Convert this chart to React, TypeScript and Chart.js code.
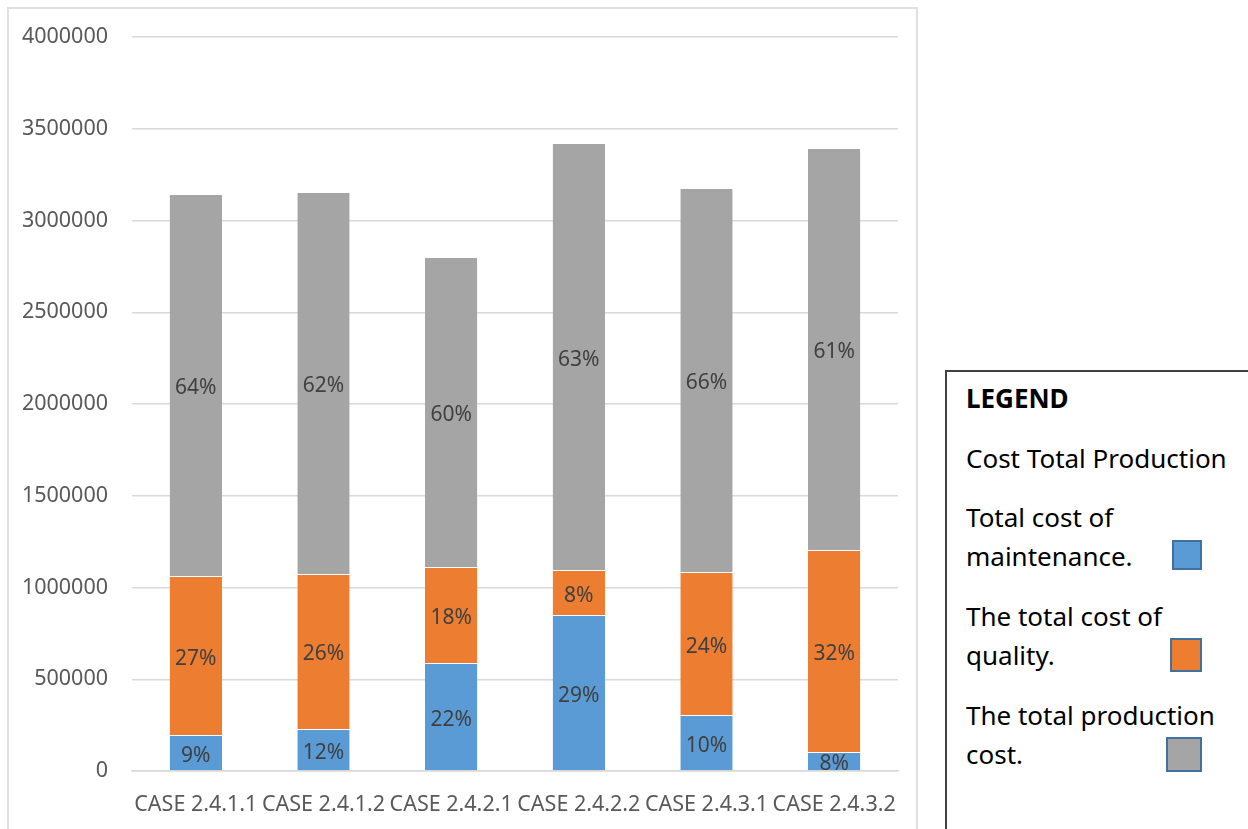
import React, { useEffect, useRef } from "react";
import { Chart, registerables } from "chart.js";

Chart.register(...registerables);

const categories = ["CASE 2.4.1.1", "CASE 2.4.1.2", "CASE 2.4.2.1", "CASE 2.4.2.2", "CASE 2.4.3.1", "CASE 2.4.3.2"];
const maintenanceCost = [196000, 229000, 589000, 850000, 305000, 104000];
const qualityCost = [866000, 845000, 523000, 245000, 779000, 1100000];
const productionCost = [2082000, 2081000, 1689000, 2327000, 2093000, 2191000];
const maintenancePct = ["9%", "12%", "22%", "29%", "10%", "8%"];
const qualityPct = ["27%", "26%", "18%", "8%", "24%", "32%"];
const productionPct = ["64%", "62%", "60%", "63%", "66%", "61%"];
const seriesNames = ["Total cost of maintenance.", "The total cost of quality.", "The total production cost."];

const FONT = "'Noto Sans', sans-serif";

const segLabels = {
  id: "segLabels",
  afterDatasetsDraw(chart: any) {
    const ctx = chart.ctx;
    const labels = [maintenancePct, qualityPct, productionPct];
    ctx.save();
    ctx.font = `21px ${FONT}`;
    ctx.fillStyle = "#404040";
    ctx.textAlign = "center";
    ctx.textBaseline = "middle";
    chart.data.datasets.forEach((_ds: any, i: number) => {
      const meta = chart.getDatasetMeta(i);
      meta.data.forEach((bar: any, j: number) => {
        const p = bar.getProps(["x", "y", "base"], true);
        ctx.fillText(labels[i][j], p.x, (p.y + p.base) / 2 + 3);
      });
    });
    ctx.restore();
  },
};

export default function App() {
  const ref = useRef<HTMLCanvasElement>(null);
  useEffect(() => {
    if (!ref.current) return;
    const chart = new Chart(ref.current, {
      type: "bar",
      data: {
        labels: categories,
        datasets: [
          { label: seriesNames[0], data: maintenanceCost, backgroundColor: "#5B9BD5" },
          { label: seriesNames[1], data: qualityCost, backgroundColor: "#ED7D31" },
          { label: seriesNames[2], data: productionCost, backgroundColor: "#A5A5A5" },
        ].map((d) => ({
          ...d,
          borderColor: "#ffffff",
          borderWidth: { top: 1, left: 0, right: 0, bottom: 0 },
          borderSkipped: false as any,
          categoryPercentage: 1,
          barPercentage: 0.41,
        })),
      },
      options: {
        responsive: false,
        animation: false,
        layout: { padding: { top: 37, right: 20, left: 0, bottom: 0 } },
        plugins: { legend: { display: false }, tooltip: { enabled: false } },
        scales: {
          x: {
            stacked: true,
            grid: { display: false },
            border: { display: true, color: "#d9d9d9", width: 1.5 },
            ticks: { color: "#595959", font: { family: FONT, size: 21.5 }, padding: 13, maxRotation: 0, autoSkip: false },
            afterFit: (s: any) => { s.height = 58; },
          },
          y: {
            stacked: true,
            min: 0,
            max: 4000000,
            grid: { color: "#d9d9d9", lineWidth: 1.5, drawTicks: false },
            border: { display: false },
            ticks: {
              stepSize: 500000,
              color: "#595959",
              font: { family: FONT, size: 21.5 },
              padding: 24,
              callback: (v: any) => String(v),
            },
            afterFit: (s: any) => { s.width = 132; },
          },
        },
      },
      plugins: [segLabels],
    });
    return () => chart.destroy();
  }, []);

  const legendLine = (text: string, baseline: number, bold = false) => (
    <div
      key={text}
      style={{
        position: "fixed",
        left: 966,
        top: baseline - 23,
        fontFamily: FONT,
        fontSize: 26,
        lineHeight: "26px",
        fontWeight: bold ? 700 : 400,
        color: "#000",
        whiteSpace: "nowrap",
      }}
    >
      {text}
    </div>
  );

  const square = (left: number, top: number, w: number, h: number, color: string) => (
    <div
      style={{
        position: "fixed",
        left,
        top,
        width: w,
        height: h,
        boxSizing: "border-box",
        background: color,
        border: "2px solid #41719C",
      }}
    />
  );

  return (
    <div>
      <div
        style={{
          position: "fixed",
          left: 7,
          top: 7,
          width: 911,
          height: 900,
          boxSizing: "border-box",
          border: "2px solid #e0e0e0",
          background: "#fff",
        }}
      />
      <canvas
        ref={ref}
        width={918}
        height={829}
        style={{ position: "fixed", left: 0, top: 0, width: 918, height: 829 }}
      />
      <div
        style={{
          position: "fixed",
          left: 945,
          top: 370,
          width: 400,
          height: 600,
          boxSizing: "border-box",
          border: "2px solid #404040",
          background: "#fff",
        }}
      />
      {legendLine("LEGEND", 408, true)}
      {legendLine("Cost Total Production", 468)}
      {legendLine("Total cost of", 527)}
      {legendLine("maintenance.", 566)}
      {legendLine("The total cost of", 626)}
      {legendLine("quality.", 665)}
      {legendLine("The total production", 725)}
      {legendLine("cost.", 764)}
      {square(1172, 540, 30, 30, "#5B9BD5")}
      {square(1170, 638, 32, 34, "#ED7D31")}
      {square(1166, 737, 36, 35, "#A5A5A5")}
    </div>
  );
}
